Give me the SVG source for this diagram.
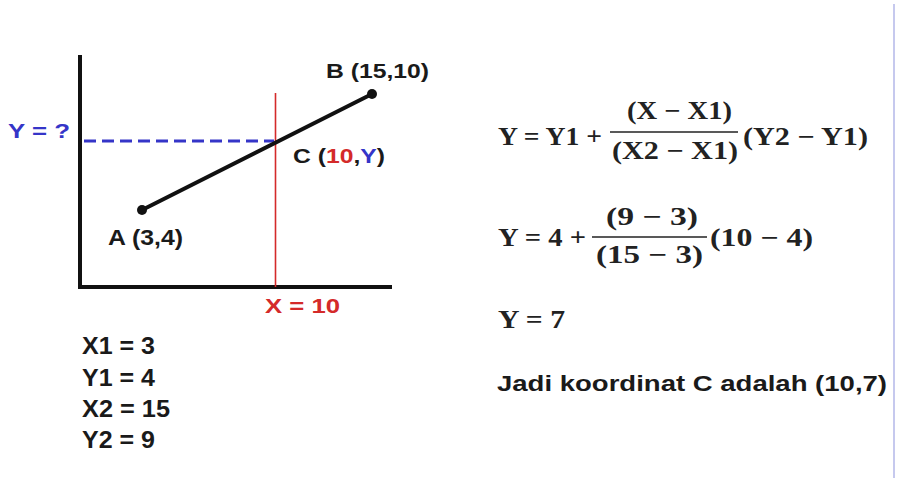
<svg xmlns="http://www.w3.org/2000/svg" width="897" height="484" viewBox="0 0 897 484">
<style>
.s{font-family:"Liberation Sans",Arial,sans-serif;font-weight:bold;fill:#1a1a1a}
.m{font-family:"Liberation Serif","Times New Roman",serif;font-weight:bold;fill:#222;font-size:25px}
.red{fill:#d42a2a}
.blue{fill:#3535c8}
</style>
<rect width="897" height="484" fill="#fff"/>
<line x1="894" y1="4" x2="894" y2="478" stroke="#c6c9ee" stroke-width="2"/>
<g id="axes" stroke="#111" stroke-width="4" fill="none">
<line x1="80" y1="55" x2="80" y2="289"/>
<line x1="78" y1="287" x2="392" y2="287"/>
</g>
<g id="connectors" fill="none">
<line x1="275.5" y1="93" x2="275.5" y2="287" stroke="#d42a2a" stroke-width="1.6"/>
<line x1="84" y1="141" x2="274" y2="141" stroke="#3535c8" stroke-width="3" stroke-dasharray="12 6"/>
<line x1="142" y1="210" x2="372" y2="94" stroke="#111" stroke-width="4" stroke-linecap="round"/>
</g>
<g id="pointA"><circle cx="142" cy="210" r="5" fill="#111"/><text class="s" x="108" y="245" font-size="22" textLength="75" lengthAdjust="spacingAndGlyphs">A (3,4)</text></g>
<g id="pointB"><circle cx="372" cy="94" r="5" fill="#111"/><text class="s" x="326" y="78" font-size="21" textLength="103" lengthAdjust="spacingAndGlyphs">B (15,10)</text></g>
<g id="pointC"><text class="s" x="293" y="163" font-size="21" textLength="92" lengthAdjust="spacingAndGlyphs">C (<tspan class="red">10</tspan>,<tspan class="blue">Y</tspan>)</text></g>
<g id="labelY"><text class="s blue" x="8" y="138" font-size="20" textLength="62" lengthAdjust="spacingAndGlyphs">Y = ?</text></g>
<g id="labelX"><text class="s red" x="265" y="313" font-size="21" textLength="75" lengthAdjust="spacingAndGlyphs">X = 10</text></g>
<g id="values">
<text class="s" x="82" y="354" font-size="24" textLength="73" lengthAdjust="spacingAndGlyphs">X1 = 3</text>
<text class="s" x="82" y="386" font-size="24" textLength="73" lengthAdjust="spacingAndGlyphs">Y1 = 4</text>
<text class="s" x="82" y="417" font-size="24" textLength="88" lengthAdjust="spacingAndGlyphs">X2 = 15</text>
<text class="s" x="82" y="448" font-size="24" textLength="73" lengthAdjust="spacingAndGlyphs">Y2 = 9</text>
</g>
<g id="formula1">
<text class="m" x="498" y="145" textLength="104" lengthAdjust="spacingAndGlyphs">Y = Y1 +</text>
<text class="m" x="627" y="119" textLength="105" lengthAdjust="spacingAndGlyphs">(X − X1)</text>
<line x1="610" y1="132" x2="738" y2="132" stroke="#222" stroke-width="1.6"/>
<text class="m" x="612" y="159" textLength="126" lengthAdjust="spacingAndGlyphs">(X2 − X1)</text>
<text class="m" x="743" y="145" textLength="125" lengthAdjust="spacingAndGlyphs">(Y2 − Y1)</text>
</g>
<g id="formula2">
<text class="m" x="498" y="246" textLength="88" lengthAdjust="spacingAndGlyphs">Y = 4 +</text>
<text class="m" x="606" y="225" textLength="92" lengthAdjust="spacingAndGlyphs">(9 − 3)</text>
<line x1="592" y1="237" x2="707" y2="237" stroke="#222" stroke-width="1.6"/>
<text class="m" x="596" y="263" textLength="107" lengthAdjust="spacingAndGlyphs">(15 − 3)</text>
<text class="m" x="710" y="246" textLength="103" lengthAdjust="spacingAndGlyphs">(10 − 4)</text>
</g>
<g id="formula3"><text class="m" x="498" y="328" textLength="67" lengthAdjust="spacingAndGlyphs">Y = 7</text></g>
<g id="conclusion"><text class="s" x="497" y="391" font-size="22" textLength="390" lengthAdjust="spacingAndGlyphs">Jadi koordinat C adalah (10,7)</text></g>
</svg>
